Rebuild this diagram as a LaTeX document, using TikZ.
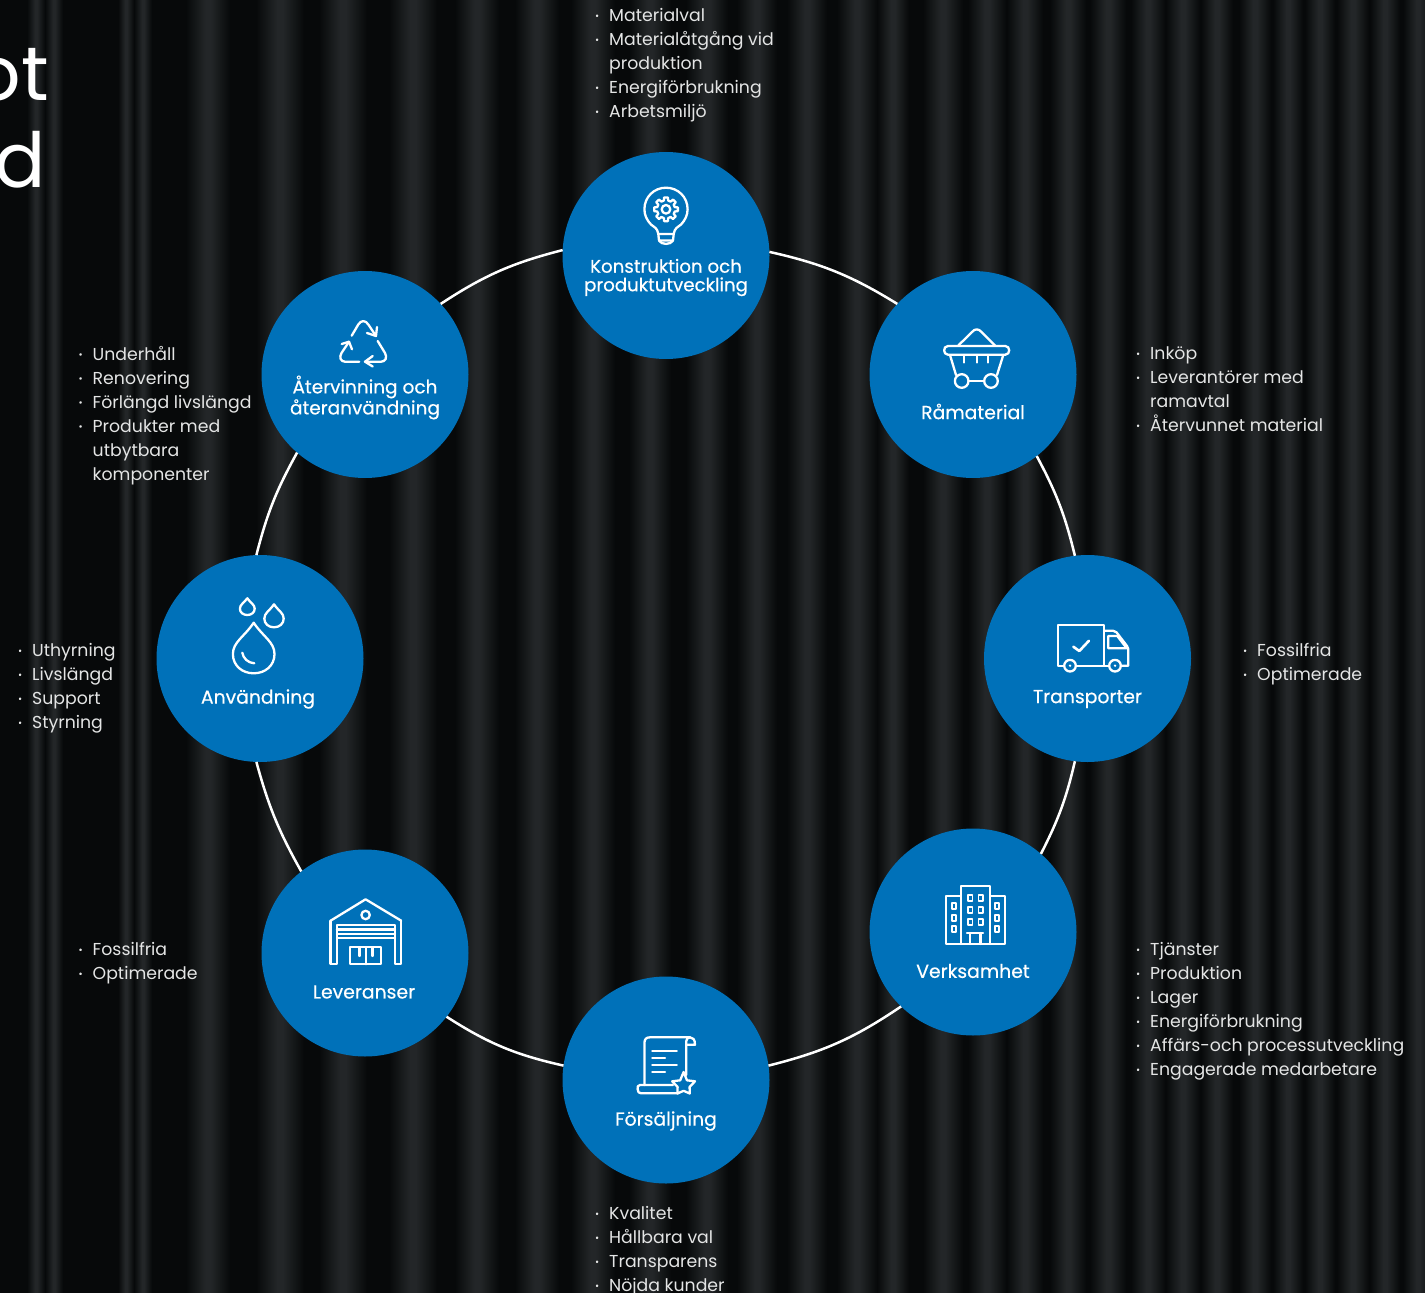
\documentclass[tikz,border=0pt]{standalone}
\usepackage{fontspec}
\setmainfont{Poppins}
\newfontfamily\medf{Poppins}[FakeBold=0.45]
\newfontfamily\bulf{Poppins}[FakeBold=1.2]
\definecolor{bgdark}{HTML}{07090A}
\definecolor{bgmid}{HTML}{16191A}
\definecolor{bgstripe}{HTML}{232628}
\definecolor{discblue}{HTML}{0071B9}
\definecolor{listgrey}{HTML}{E4E5E5}
\pgfdeclarehorizontalshading{softstripe}{100bp}{color(0bp)=(bgdark);color(25bp)=(bgdark);color(37bp)=(bgmid);color(47bp)=(bgstripe);color(53bp)=(bgstripe);color(63bp)=(bgmid);color(75bp)=(bgdark);color(100bp)=(bgdark)}
\newcommand{\li}{\rule{0pt}{14pt}\makebox[14pt][l]{\bulf ·}}
\newcommand{\nl}{\rule{0pt}{14pt}\hspace*{14pt}}
\tikzset{
  disc/.style={circle,fill=discblue,minimum size=207pt,inner sep=0pt,outer sep=0pt},
  lab/.style={text=white,align=center,inner sep=0pt,font=\medf\fontsize{18.8}{21}\selectfont},
  labdouble/.style={lab,font=\medf\fontsize{18.5}{21}\selectfont},
  labtight/.style={lab,font=\medf\fontsize{18.2}{18.5}\selectfont},
  listbox/.style={text=listgrey,align=left,anchor=north west,inner sep=0pt,font=\fontsize{17.3}{24}\selectfont},
  ringline/.style={draw=white,line width=2.5pt},
  icon/.style={draw=white,line width=2.3pt,line join=round,line cap=round},
  title/.style={text=white,anchor=base east,inner sep=0pt,font=\fontsize{76}{86}\selectfont}
}
\begin{document}
\begin{tikzpicture}[x=1pt,y=-1pt]
\useasboundingbox (0,0) rectangle (1425,1293);
\clip (0,0) rectangle (1425,1293);
\fill[bgdark] (0,0) rectangle (1425,1293);
% background stripes: centre / half width
\foreach \c/\w in {36/9,54/9,126/8,143/9,208/22,280/24,343/24,413/24,477/22,537/22,593/22,650/21,707/21,757/20,807/20,857/20,893/16,943/20,987/19,1025/18,1068/18,1108/18,1148/17,1183/17,1217/16,1255/16,1288/15,1320/15,1353/16,1385/15,1418/15}{
  \shade[shading=softstripe] (\c-\w,0) rectangle (\c+\w,1293);
}
% title fragments
\node[title] (t1) at (49,100.5) {ot};
\node[title] (t2) at (46,187) {d};
% discs
\node[disc] (K) at (666,255.5) {};
\node[disc] (R) at (973,374.5) {};
\node[disc] (T) at (1087.5,658.5) {};
\node[disc] (V) at (973,932) {};
\node[disc] (F) at (666,1080) {};
\node[disc] (L) at (365,953) {};
\node[disc] (A) at (260,658.5) {};
\node[disc] (E) at (365,374.5) {};
% ring arcs
\draw[ringline] (K.2) to[bend left=9.5] (R.137.6);
\draw[ringline] (R.-52) to[bend left=7.3] (T.97);
\draw[ringline] (T.-97) to[bend left=7] (V.49);
\draw[ringline] (V.226) to[bend left=10] (F.8);
\draw[ringline] (F.172) to[bend left=10] (L.-38);
\draw[ringline] (L.128) to[bend left=7] (A.268);
\draw[ringline] (A.92) to[bend left=7.3] (E.229);
\draw[ringline] (E.43.6) to[bend left=9.5] (K.177);
% labels
\node[labtight] (Kt) at (666,277.5) {Konstruktion och\\produktutveckling};
\node[lab] (Rt) at (973,411.5) {Råmaterial};
\node[lab] (Tt) at (1087.5,699) {Transporter};
\node[lab] (Vt) at (973,971) {Verksamhet};
\node[lab] (Ft) at (666,1121) {Försäljning};
\node[lab] (Lt) at (364,992) {Leveranser};
\node[lab] (At) at (258,699) {Användning};
\node[labdouble] (Et) at (365,397.5) {Återvinning och\\återanvändning};
% lists
\node[listbox] (l1) at (595,7.5) {\li Materialval\\\li Materialåtgång vid\\\nl produktion\\\li Energiförbrukning\\\li Arbetsmiljö};
\node[listbox] (l2) at (1136,345.5) {\li Inköp\\\li Leverantörer med\\\nl ramavtal\\\li Återvunnet material};
\node[listbox] (l3) at (1243,642.5) {\li Fossilfria\\\li Optimerade};
\node[listbox] (l4) at (1136,941.5) {\li Tjänster\\\li Produktion\\\li Lager\\\li Energiförbrukning\\\li Affärs-och processutveckling\\\li Engagerade medarbetare};
\node[listbox] (l5) at (595,1205.5) {\li Kvalitet\\\li Hållbara val\\\li Transparens\\\li Nöjda kunder};
\node[listbox] (l6) at (78.5,941.5) {\li Fossilfria\\\li Optimerade};
\node[listbox] (l7) at (18,642.5) {\li Uthyrning\\\li Livslängd\\\li Support\\\li Styrning};
\node[listbox] (l8) at (78.5,346) {\li Underhåll\\\li Renovering\\\li Förlängd livslängd\\\li Produkter med\\\nl utbytbara\\\nl komponenter};
% bulb icon
\draw[icon] (658.3,234) .. controls (657.5,228) and (654,227) .. (651,224.5) .. controls (647,220.5) and (644.4,215) .. (644.4,209.3) .. controls (644.4,197) and (654,187.7) .. (666,187.7) .. controls (678,187.7) and (687.6,197) .. (687.6,209.3) .. controls (687.6,215) and (685,220.5) .. (681,224.5) .. controls (678,227) and (674.5,228) .. (673.7,234) -- cycle;
\draw[icon] (658.3,234) -- (659,240.5) -- (673,240.5) -- (673.7,234);
\draw[icon] (659,240.5) .. controls (661,245) and (671,245) .. (673,240.5);
\begin{scope}[shift={(666,209.3)}]
\draw[icon] (-14:9) \foreach \a in {0,45,...,315}{ -- (\a-14:9) -- (\a-9:12) -- (\a+9:12) -- (\a+14:9)} -- cycle;
\draw[icon] (0,0) circle[radius=4.3];
\end{scope}
% cart icon
\draw[icon] (958.3,345.5) -- (972,332) .. controls (975,328.5) and (978.5,328.5) .. (981.5,332) -- (995,345.5);
\draw[icon] (948,346) -- (1005.3,346) .. controls (1010.5,346) and (1010.5,354.7) .. (1005.3,354.7) -- (948,354.7) .. controls (942.8,354.7) and (942.8,346) .. (948,346) -- cycle;
\draw[icon] (950,355) -- (956,375);
\draw[icon] (1003.3,355) -- (997,375);
\draw[icon] (968.7,381) -- (984,381);
\draw[icon] (961.7,381) circle[radius=6.8];
\draw[icon] (991,381) circle[radius=6.8];
\foreach \x in {964.3,976.7,988.3}{\draw[icon] (\x,355) -- (\x,362.5);}
% truck icon
\draw[icon] (1063.5,665.7) -- (1057.7,665.7) -- (1057.7,625) -- (1104.3,625) -- (1104.3,665.7) -- (1076,665.7);
\draw[icon] (1104.3,630.7) -- (1113,630.7) .. controls (1115,630.7) and (1115.5,631) .. (1116.5,632.3) -- (1127,646) .. controls (1128,647.5) and (1128.3,648) .. (1128.3,649) -- (1128.3,665.7) -- (1121,665.7);
\draw[icon] (1104.3,665.7) -- (1109,665.7);
\draw[icon] (1108.3,636) -- (1117.3,636) -- (1126.7,648.3) -- (1108.3,648.3) -- cycle;
\draw[icon] (1070,665.7) circle[radius=5.8];
\draw[icon] (1115,665.7) circle[radius=5.8];
\fill[white] (1070,665.7) circle[radius=1.3] (1115,665.7) circle[radius=1.3];
\draw[icon,line width=2.6pt] (1073.3,646.7) -- (1079.3,651) -- (1089,640.7);
% recycle icon
\draw[icon] (351.7,335.7) -- (358.3,324.5) .. controls (361,320) and (365.5,320) .. (368.3,324.5) -- (376,336);
\draw[icon] (367,333) -- (376,336) -- (377,327);
\draw[icon] (359.3,361.7) -- (345,361.7) .. controls (340.5,361.7) and (339,357) .. (341.5,353) -- (349,341.7);
\draw[icon] (341.7,344) -- (349,341.7) -- (352,349.3);
\draw[icon] (377.7,341) -- (385,353) .. controls (387.5,357.5) and (385.5,361.7) .. (381,361.7) -- (365,361.7);
\draw[icon] (372.7,356) -- (365,361.7) -- (372.7,366.5);
% drops icon
\begin{scope}[shift={(253.7,622.7)},xscale=20.8,yscale=50.6]
\draw[icon] (0,0) .. controls (0.45,0.28) and (1,0.38) .. (1,0.62) .. controls (1,0.85) and (0.55,1) .. (0,1) .. controls (-0.55,1) and (-1,0.85) .. (-1,0.62) .. controls (-1,0.38) and (-0.45,0.28) .. (0,0) -- cycle;
\end{scope}
\begin{scope}[shift={(247.3,598.3)},xscale=7.4,yscale=16.7]
\draw[icon] (0,0) .. controls (0.45,0.28) and (1,0.38) .. (1,0.62) .. controls (1,0.85) and (0.55,1) .. (0,1) .. controls (-0.55,1) and (-1,0.85) .. (-1,0.62) .. controls (-1,0.38) and (-0.45,0.28) .. (0,0) -- cycle;
\end{scope}
\begin{scope}[shift={(274,604.3)},xscale=9.7,yscale=23]
\draw[icon] (0,0) .. controls (0.45,0.28) and (1,0.38) .. (1,0.62) .. controls (1,0.85) and (0.55,1) .. (0,1) .. controls (-0.55,1) and (-1,0.85) .. (-1,0.62) .. controls (-1,0.38) and (-0.45,0.28) .. (0,0) -- cycle;
\end{scope}
\draw[icon] (242.3,652.7) .. controls (243,658) and (248,663) .. (254.3,663.3);
% warehouse icon
\draw[icon] (330.6,920.7) -- (365.6,899.3) -- (401.2,920.7);
\draw[icon] (330.6,920.7) -- (330.6,964.3) -- (336.9,964.3) -- (336.9,925) -- (395,925) -- (395,964.3) -- (401.2,964.3) -- (401.2,920.7);
\foreach \y in {929.5,934,938.3}{\draw[icon] (336.9,\y) -- (395,\y);}
\draw[icon] (350,964.3) -- (350,947.3) -- (381.3,947.3) -- (381.3,964.3) -- cycle;
\draw[icon] (359.5,947.3) -- (359.5,956);
\draw[icon] (366,947.3) -- (366,964.3);
\draw[icon] (372.5,947.3) -- (372.5,956);
\draw[icon] (365.6,915) circle[radius=4.2];
% building icon
\draw[icon] (946.2,944) -- (1005.3,944) -- (1005.3,896) -- (990.1,896) -- (990.1,886) -- (960.8,886) -- (960.8,896) -- (946.2,896) -- cycle;
\draw[icon] (960.8,896) -- (960.8,944);
\draw[icon] (990.1,896) -- (990.1,944);
\foreach \x in {970.2,980.7}{\foreach \y in {898.3,910,921.7}{\draw[icon,line width=1.7pt] (\x-2.2,\y-3) rectangle (\x+2.2,\y+3);}}
\foreach \x in {954,996.9}{\foreach \y in {906,917.7,929.3}{\draw[icon,line width=1.7pt] (\x-2.2,\y-3) rectangle (\x+2.2,\y+3);}}
\draw[icon] (967,933) -- (983,933);
\draw[icon] (970,933) -- (970,944);
\draw[icon] (980.5,933) -- (980.5,944);
% scroll icon
\draw[icon] (644.4,1085) -- (644.4,1043) .. controls (644.4,1039) and (646.5,1037.3) .. (650,1037.3) -- (690,1037.3) .. controls (693,1037.3) and (695,1039.5) .. (695,1044.8) -- (686.3,1044.8);
\draw[icon] (686.3,1075) -- (686.3,1041) .. controls (686.3,1039) and (688,1037.3) .. (690,1037.3);
\draw[icon] (673,1085) -- (640,1085) .. controls (637.5,1085) and (637.6,1087) .. (637.6,1089) .. controls (637.6,1092) and (639,1093.3) .. (641,1093.3) -- (678,1093.3);
\draw[icon] (652.3,1051) -- (676.8,1051);
\draw[icon] (652.3,1058) -- (665,1058);
\draw[icon] (652.3,1065) -- (676.8,1065);
\draw[icon] (652.3,1071.7) -- (665,1071.7);
\begin{scope}[shift={(683.6,1085)}]
\filldraw[icon,fill=discblue] (-90:13) -- (-54:5.8) -- (-18:12) -- (18:6.3) -- (54:10.5) -- (90:5.8) -- (126:10.5) -- (162:6.3) -- (198:12) -- (234:5.8) -- cycle;
\end{scope}
\end{tikzpicture}
\end{document}
